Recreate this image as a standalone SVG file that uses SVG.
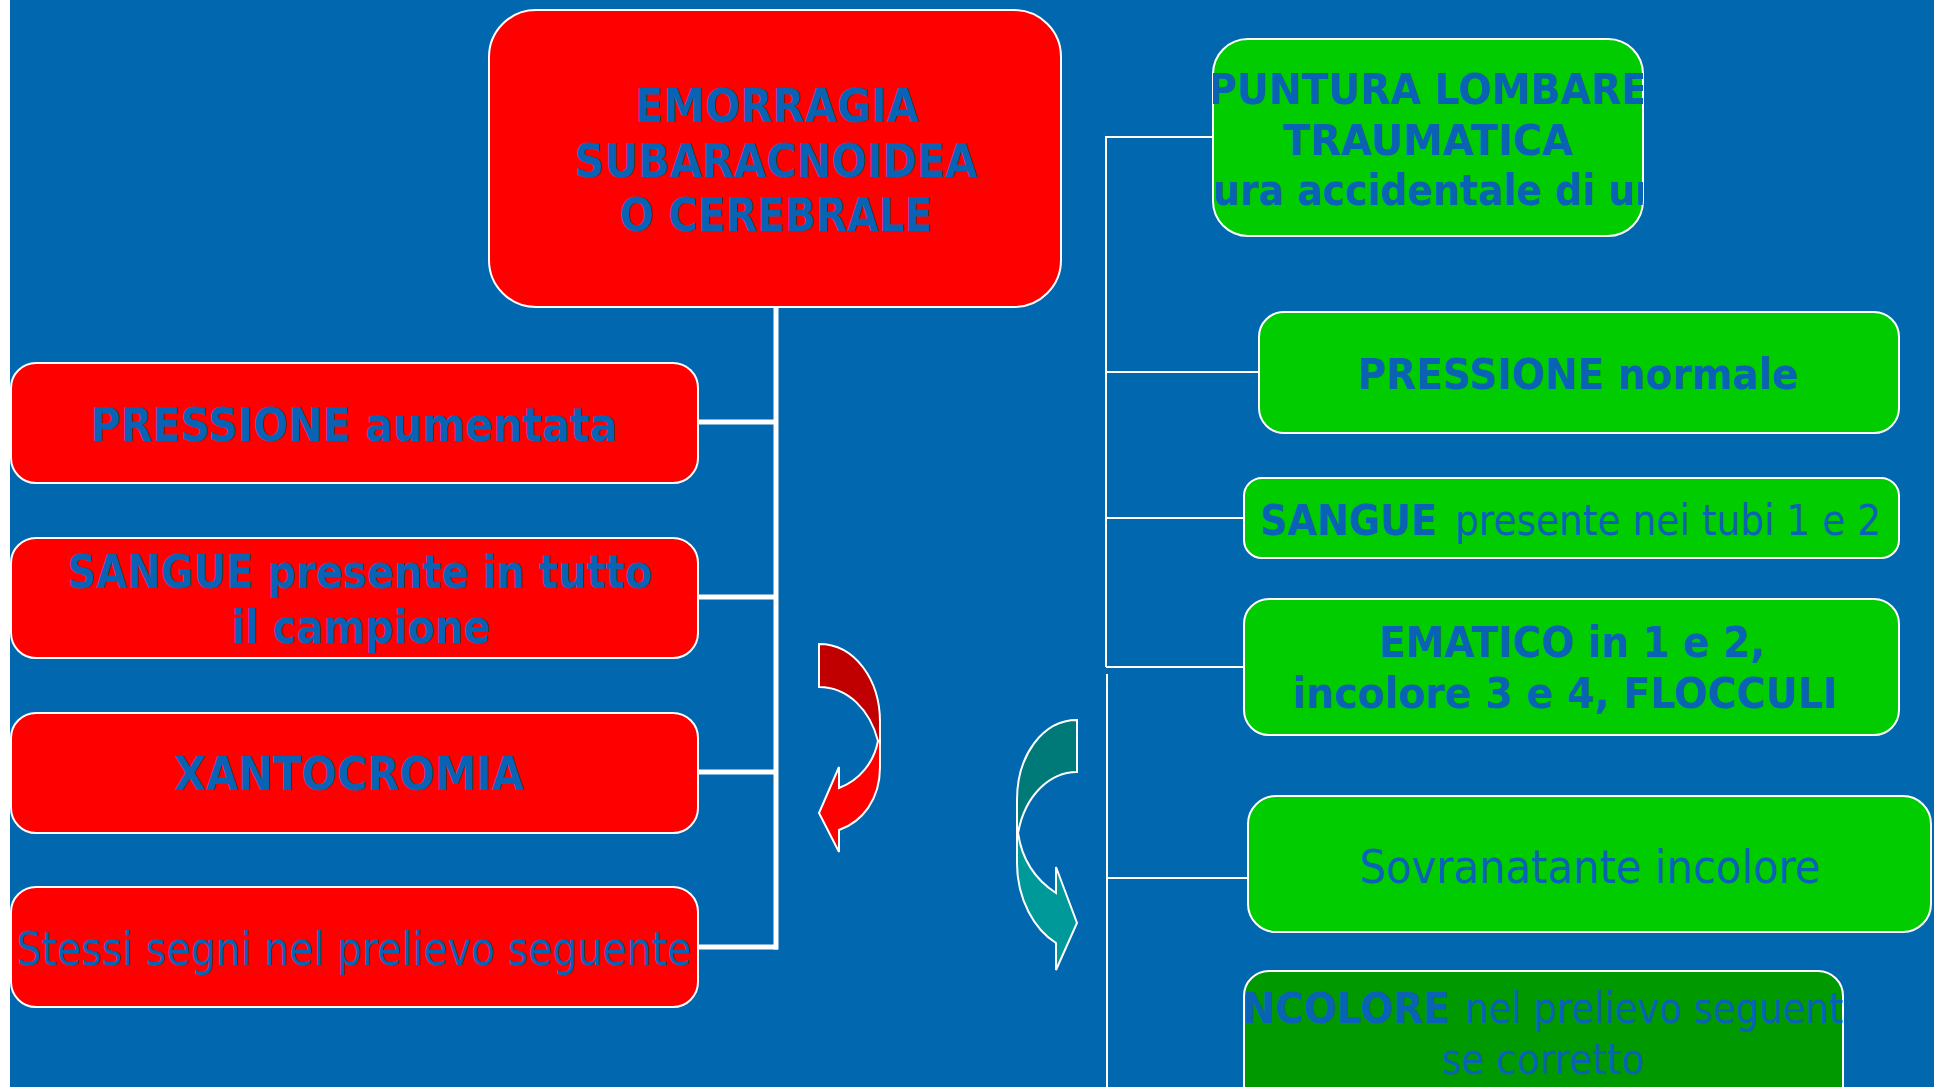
<svg xmlns="http://www.w3.org/2000/svg" width="1934" height="1087" viewBox="0 0 1934 1087">
<style>
.red{fill:#FF0000;stroke:#FFFFFF;stroke-width:2}
.grn{fill:#00CC00;stroke:#FFFFFF;stroke-width:2}
.dgrn{fill:#009900;stroke:#FFFFFF;stroke-width:2}
.t{font-family:"DejaVu Sans","Liberation Sans",sans-serif;fill:#0A62B5;text-anchor:middle}
.s{text-anchor:start}
.b{font-weight:bold}
.n{font-weight:normal}
.thick{stroke:#FFFFFF;stroke-width:5;fill:none}
.thin{stroke:#FFFFFF;stroke-width:2;fill:none}
.arr{stroke:#FFFFFF;stroke-width:2}
</style>
<defs>
<clipPath id="cpPunt"><rect x="1213" y="39" width="430" height="197" rx="35"/></clipPath>
<clipPath id="cpInc"><rect x="1244" y="971" width="599" height="140" rx="25"/></clipPath>
</defs>
<rect x="0" y="0" width="1934" height="1087" fill="#FFFFFF"/>
<rect x="10" y="0" width="1924" height="1087" fill="#0167AF"/>

<g id="connectors">
<path class="thick" d="M776,307 V949.5"/>
<path class="thick" d="M698,422 H778"/>
<path class="thick" d="M698,597 H778"/>
<path class="thick" d="M698,772 H778"/>
<path class="thick" d="M698,947 H778"/>
<path class="thin" d="M1213,137 H1106 V667"/>
<path class="thin" d="M1106,372 H1259"/>
<path class="thin" d="M1106,518 H1244"/>
<path class="thin" d="M1106,667 H1244"/>
<path class="thin" d="M1107,674 V1087"/>
<path class="thin" d="M1107,878 H1248"/>
</g>

<g id="main">
<rect class="red" x="489" y="10" width="572" height="297" rx="47"/>
<text class="t b" font-size="46"><tspan x="777" y="122" textLength="284" lengthAdjust="spacingAndGlyphs">EMORRAGIA</tspan><tspan x="776" y="177" textLength="403" lengthAdjust="spacingAndGlyphs">SUBARACNOIDEA</tspan><tspan x="776" y="231" textLength="313" lengthAdjust="spacingAndGlyphs">O CEREBRALE</tspan></text>
</g>

<g id="pressione-aumentata">
<rect class="red" x="11" y="363" width="687" height="120" rx="25"/>
<text class="t b" font-size="46" x="354" y="441" textLength="527" lengthAdjust="spacingAndGlyphs">PRESSIONE aumentata</text>
</g>

<g id="sangue-tutto">
<rect class="red" x="11" y="538" width="687" height="120" rx="25"/>
<text class="t b" font-size="46"><tspan x="360" y="588" textLength="585" lengthAdjust="spacingAndGlyphs">SANGUE presente in tutto</tspan><tspan x="361" y="643" textLength="259" lengthAdjust="spacingAndGlyphs">il campione</tspan></text>
</g>

<g id="xantocromia">
<rect class="red" x="11" y="713" width="687" height="120" rx="25"/>
<text class="t b" font-size="46" x="349" y="790" textLength="350" lengthAdjust="spacingAndGlyphs">XANTOCROMIA</text>
</g>

<g id="stessi-segni">
<rect class="red" x="11" y="887" width="687" height="120" rx="25"/>
<text class="t n" font-size="47" x="354" y="965" textLength="675" lengthAdjust="spacingAndGlyphs">Stessi segni nel prelievo seguente</text>
</g>

<g id="red-arrow">
<path class="arr" fill="#C00000" d="M819,644 C855,644 880,680 880,722 L880,741 L878,741 C870,710 848,687 819,687 Z"/>
<path class="arr" fill="#FF0000" d="M878,741 L880,741 L880,767 C880,800 862,822 839,830 L839,852 L819,813 L839,767 L839,788 C860,780 874,762 878,741 Z"/>
</g>

<g id="teal-arrow">
<path class="arr" fill="#007A78" d="M1077,720 C1043,720 1017,755 1017,800 L1017,833 L1018,833 C1025,795 1050,772 1077,772 Z"/>
<path class="arr" fill="#009999" d="M1018,833 L1017,833 L1017,863 C1017,900 1035,930 1056,943 L1056,970 L1077,923 L1056,867 L1056,893 C1036,880 1022,860 1018,833 Z"/>
</g>

<g id="puntura">
<rect class="grn" x="1213" y="39" width="430" height="197" rx="35"/>
<g clip-path="url(#cpPunt)">
<text class="t b" font-size="43"><tspan x="1428" y="104" textLength="440" lengthAdjust="spacingAndGlyphs">PUNTURA LOMBARE</tspan><tspan x="1428" y="155" textLength="290" lengthAdjust="spacingAndGlyphs">TRAUMATICA</tspan></text>
<text class="t b s" font-size="43" x="1213" y="205" textLength="449" lengthAdjust="spacingAndGlyphs">ura accidentale di un</text>
</g>
</g>

<g id="pressione-normale">
<rect class="grn" x="1259" y="312" width="640" height="121" rx="25"/>
<text class="t b" font-size="43" x="1578" y="389" textLength="441" lengthAdjust="spacingAndGlyphs">PRESSIONE normale</text>
</g>

<g id="sangue-tubi">
<rect class="grn" x="1244" y="478" width="655" height="80" rx="18"/>
<text class="t s" font-size="43" y="535"><tspan class="b" x="1260" textLength="177" lengthAdjust="spacingAndGlyphs">SANGUE</tspan><tspan class="n" x="1455" textLength="426" lengthAdjust="spacingAndGlyphs">presente nei tubi 1 e 2</tspan></text>
</g>

<g id="ematico">
<rect class="grn" x="1244" y="599" width="655" height="136" rx="25"/>
<text class="t b" font-size="43"><tspan x="1572" y="657" textLength="386" lengthAdjust="spacingAndGlyphs">EMATICO in 1 e 2,</tspan><tspan x="1565" y="708" textLength="545" lengthAdjust="spacingAndGlyphs">incolore 3 e 4,  FLOCCULI</tspan></text>
</g>

<g id="sovranatante">
<rect class="grn" x="1248" y="796" width="683" height="136" rx="28"/>
<text class="t n" font-size="47" x="1590" y="883" textLength="461" lengthAdjust="spacingAndGlyphs">Sovranatante incolore</text>
</g>

<g id="incolore">
<rect class="dgrn" x="1244" y="971" width="599" height="140" rx="25"/>
<g clip-path="url(#cpInc)">
<text class="t s" font-size="43" y="1023"><tspan class="b" x="1228" textLength="222" lengthAdjust="spacingAndGlyphs">INCOLORE</tspan><tspan class="n" x="1465" textLength="401" lengthAdjust="spacingAndGlyphs">nel prelievo seguente</tspan></text>
<text class="t n" font-size="43" x="1543" y="1074" textLength="203" lengthAdjust="spacingAndGlyphs">se corretto</text>
</g>
</g>
</svg>
